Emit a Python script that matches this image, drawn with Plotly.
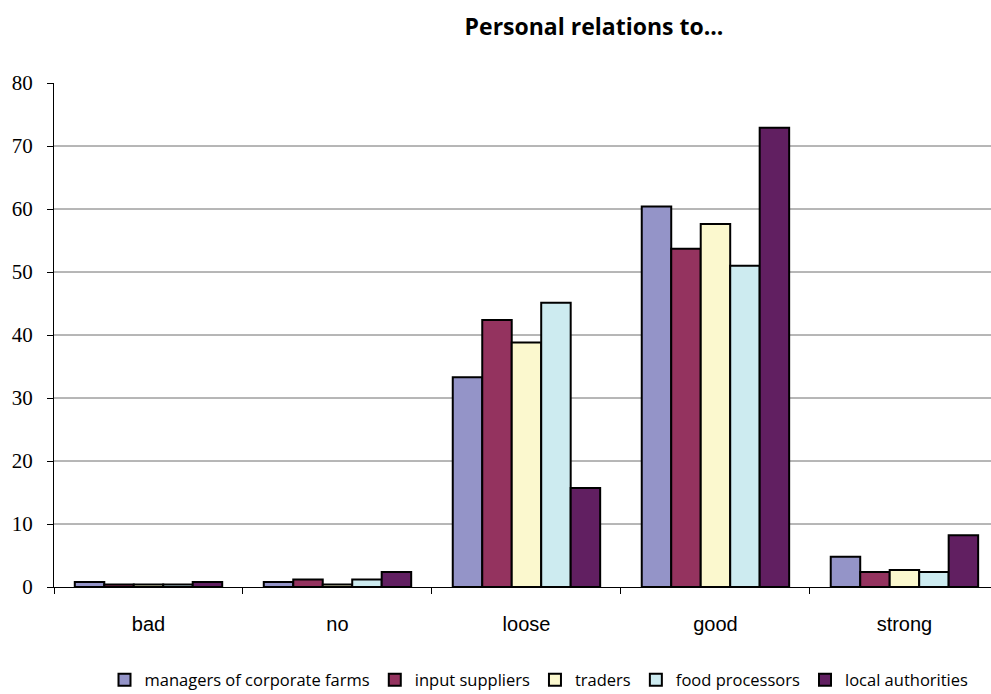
import plotly.graph_objects as go

categories = ["bad", "no", "loose", "good", "strong"]
series_names = ["managers of corporate farms", "input suppliers", "traders",
                "food processors", "local authorities"]
managers = [0.8, 0.8, 33.3, 60.4, 4.8]
input_suppliers = [0.4, 1.2, 42.4, 53.7, 2.4]
traders = [0.4, 0.4, 38.8, 57.6, 2.7]
food_processors = [0.4, 1.2, 45.1, 51.0, 2.4]
local_authorities = [0.8, 2.4, 15.7, 72.9, 8.2]
y_ticks = [0, 10, 20, 30, 40, 50, 60, 70, 80]

series_values = [managers, input_suppliers, traders, food_processors, local_authorities]
colors = ["#9494C8", "#94335F", "#FBF8CE", "#CDEBF0", "#611F61"]

fig = go.Figure()
for name, vals, col in zip(series_names, series_values, colors):
    fig.add_trace(go.Bar(x=categories, y=vals, name=name,
                         marker=dict(color=col, line=dict(color="black", width=2))))

shapes = []
for v in y_ticks[1:-1]:
    shapes.append(dict(type="line", xref="paper", yref="y", x0=0, x1=1, y0=v, y1=v,
                       line=dict(color="#6f6f6f", width=1), layer="below"))

fig.update_layout(
    width=991, height=694,
    margin=dict(l=54, r=0, t=83, b=107, autoexpand=False),
    paper_bgcolor="white", plot_bgcolor="white",
    barmode="group", bargap=0.22, bargroupgap=0,
    title=dict(text="<b>Personal relations to...</b>", x=594 / 991, xref="container",
               xanchor="center", y=1 - 27 / 694, yref="container", yanchor="middle",
               font=dict(family="Open Sans", size=23, color="black")),
    xaxis=dict(type="category", range=[-0.5, 4.458], tickson="boundaries",
               ticks="outside", ticklen=6, tickcolor="black", showline=True,
               linecolor="black", linewidth=1, showgrid=False, automargin=False,
               tickfont=dict(family="Liberation Sans", size=20, color="black"),
               ticklabelstandoff=19),
    yaxis=dict(range=[0, 80], tickvals=y_ticks, ticks="outside", ticklen=6,
               tickcolor="black", showline=True, linecolor="black", linewidth=1,
               showgrid=False, zeroline=False, automargin=False,
               tickfont=dict(family="Liberation Serif", size=21, color="black"),
               ticklabelstandoff=10),
    shapes=shapes,
    legend=dict(orientation="h", x=539 / 991, xref="container", xanchor="center",
                y=1 - 680 / 694, yref="container", yanchor="middle",
                font=dict(family="Open Sans", size=16.5, color="black"),
                itemwidth=30, tracegroupgap=0),
    showlegend=True,
)

fig.write_html("out.html", config={"displayModeBar": False},
               post_script="document.body.style.margin='0px';")
